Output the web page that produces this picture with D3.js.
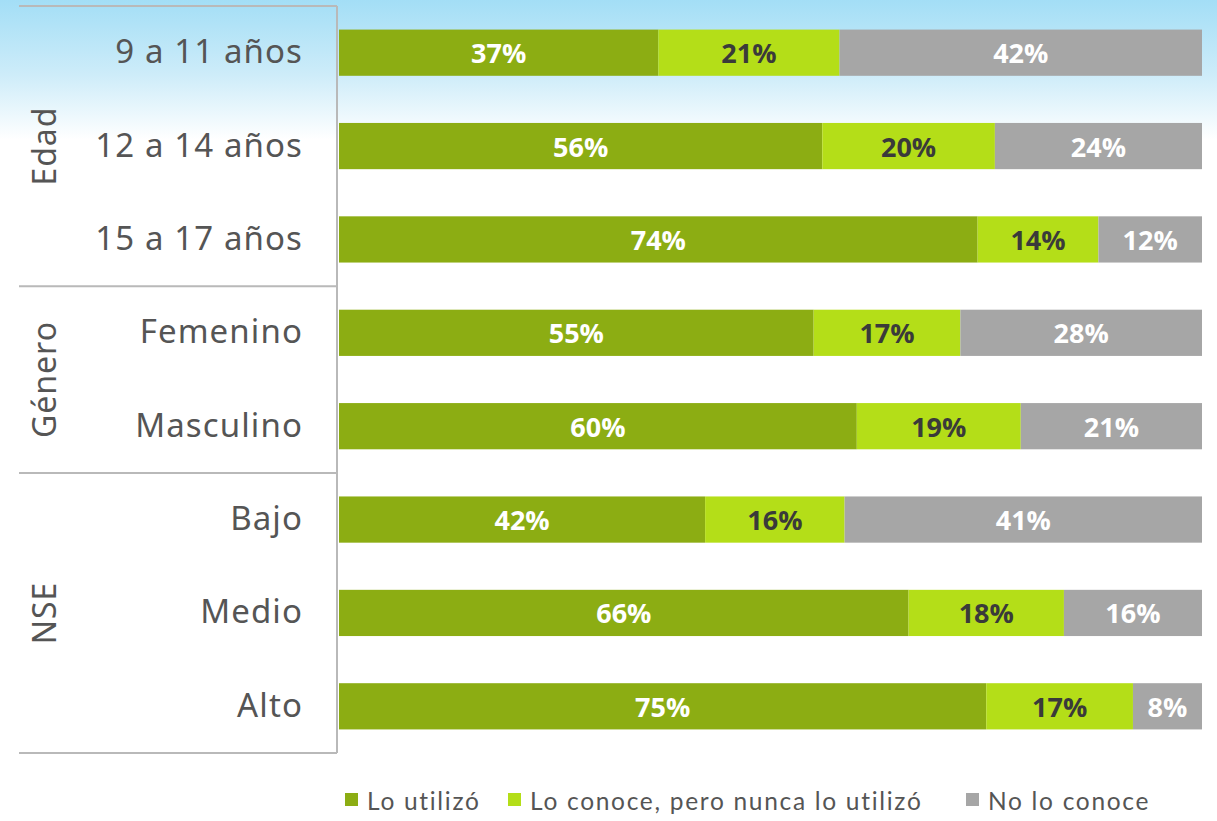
<!DOCTYPE html>
<html><head><meta charset="utf-8">
<script src="https://cdn.jsdelivr.net/npm/d3@7"></script>
<style>body{margin:0;background:#fff;} svg{display:block;}</style>
</head><body>
<svg id="c" width="1217" height="821"></svg>
<script>
const categories = ["9 a 11 años","12 a 14 años","15 a 17 años","Femenino","Masculino","Bajo","Medio","Alto"];
const groups = [
  {name:"Edad", members:["9 a 11 años","12 a 14 años","15 a 17 años"]},
  {name:"Género", members:["Femenino","Masculino"]},
  {name:"NSE", members:["Bajo","Medio","Alto"]}
];
const seriesNames = ["Lo utilizó","Lo conoce, pero nunca lo utilizó","No lo conoce"];
const utilizo = [37,56,74,55,60,42,66,75];
const conoce = [21,20,14,17,19,16,18,17];
const noConoce = [42,24,12,28,21,41,16,8];
const colors = ["#8cad13","#b4de18","#a6a6a6"];
const labelColors = ["#ffffff","#3a3a3a","#ffffff"];

const svg = d3.select("#c");
const W = 1217, H = 821;
const defs = svg.append("defs");
const grad = defs.append("linearGradient").attr("id","bg").attr("x1",0).attr("y1",0).attr("x2",0).attr("y2",1);
grad.append("stop").attr("offset","0").attr("stop-color","#a3def6");
grad.append("stop").attr("offset","0.09").attr("stop-color","#cdecf9");
grad.append("stop").attr("offset","0.17").attr("stop-color","#ffffff");
grad.append("stop").attr("offset","1").attr("stop-color","#ffffff");
svg.append("rect").attr("width",W).attr("height",H).attr("fill","url(#bg)");

const data = categories.map((c,i)=>({cat:c, "Lo utilizó":utilizo[i], "Lo conoce, pero nunca lo utilizó":conoce[i], "No lo conoce":noConoce[i]}));
const stack = d3.stack().keys(seriesNames).offset(d3.stackOffsetExpand);
const stacked = stack(data);

const x = d3.scaleLinear().domain([0,1]).range([339,1202]);
const y = d3.scaleBand().domain(categories).range([6,753]).paddingInner(0.505).paddingOuter(0.2525);

stacked.forEach((s,si)=>{
  const g = svg.append("g");
  g.selectAll("rect").data(s).join("rect")
    .attr("x",d=>x(d[0])).attr("y",d=>y(d.data.cat))
    .attr("width",d=>x(d[1])-x(d[0])).attr("height",y.bandwidth())
    .attr("fill",colors[si]);
  g.selectAll("text").data(s).join("text")
    .attr("x",d=>(x(d[0])+x(d[1]))/2).attr("y",d=>y(d.data.cat)+y.bandwidth()/2)
    .attr("text-anchor","middle").attr("dominant-baseline","central")
    .attr("font-family","'Open Sans', sans-serif").attr("font-weight",700).attr("font-size",27)
    .attr("fill",labelColors[si])
    .text(d=>d.data[seriesNames[si]]+"%");
});

// category labels
svg.append("g").selectAll("text").data(categories).join("text")
  .attr("x",303).attr("y",d=>y(d)+y.bandwidth()/2 - 2)
  .attr("text-anchor","end").attr("dominant-baseline","central")
  .attr("font-family","'Noto Sans',sans-serif").attr("font-size",33)
  .attr("letter-spacing","1.1px")
  .attr("fill","#555555").text(d=>d);

// frame lines
const lineCol = "#b9b9b9";
const step = y.step();
let boundaries = [6];
let idx = 0;
groups.forEach(g=>{ idx += g.members.length; boundaries.push(6 + idx*step); });
svg.append("g").selectAll("line").data(boundaries).join("line")
  .attr("x1",19).attr("x2",337).attr("y1",d=>d).attr("y2",d=>d)
  .attr("stroke",lineCol).attr("stroke-width",2);
svg.append("line").attr("x1",337).attr("x2",337).attr("y1",6).attr("y2",753)
  .attr("stroke",lineCol).attr("stroke-width",2);

// group labels
svg.append("g").selectAll("text").data(groups).join("text")
  .attr("transform",(g,i)=>{
    const cy = (boundaries[i]+boundaries[i+1])/2;
    return `translate(43,${cy}) rotate(-90)`;
  })
  .attr("text-anchor","middle").attr("dominant-baseline","central")
  .attr("font-family","'Noto Sans',sans-serif").attr("font-size",32)
  .attr("letter-spacing","1px")
  .attr("fill","#555555").text(g=>g.name);

// legend
const legX = [345,508,966];
const lg = svg.append("g");
seriesNames.forEach((s,i)=>{
  lg.append("rect").attr("x",legX[i]).attr("y",793).attr("width",13).attr("height",13).attr("fill",colors[i]);
  lg.append("text").attr("x",legX[i]+22).attr("y",800).attr("dominant-baseline","central")
    .attr("font-family","'Lato',sans-serif").attr("font-size",24.5).attr("letter-spacing","1.7px")
    .attr("fill","#555555").text(s);
});
</script>
</body></html>
